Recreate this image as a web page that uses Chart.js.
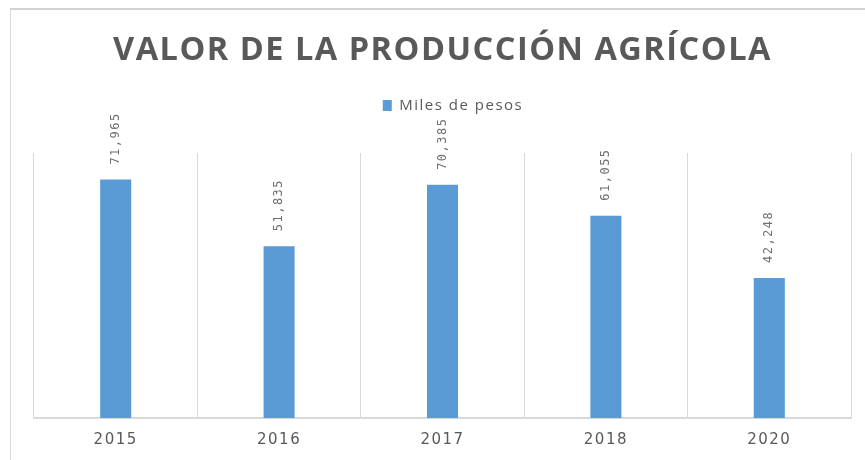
<!DOCTYPE html>
<html lang="es">
<head>
    <meta charset="UTF-8">
    <title>Valor de la producción agrícola</title>
    <script src="https://cdn.jsdelivr.net/npm/chart.js"></script>
    <style>
        body { margin: 0; background: #fff; }
        #wrap {
            position: absolute; left: 10px; top: 8px; width: 854px; height: 450px;
            border-top: 2px solid #d2d2d2; border-left: 1px solid #dadada;
        }
    </style>
</head>
<body>
    <div id="wrap"><canvas id="myChart"></canvas></div>
    <script>
        // Data
        const years = ['2015', '2016', '2017', '2018', '2020'];
        const milesDePesos = [71965, 51835, 70385, 61055, 42248];
        const seriesLabel = 'Miles de pesos';
        const chartTitle = 'VALOR DE LA PRODUCCIÓN AGRÍCOLA';

        const grey = '#595959';

        // Excel-like text spacing (canvas state is reset on resize, so set it each draw)
        const spacingPlugin = {
            id: 'spacing',
            beforeDraw: (chart) => {
                chart.ctx.letterSpacing = '1.5px';
            }
        };

        // empty layout box between legend and plot area
        const legendGap = {
            id: 'legendGap',
            beforeInit: (chart) => {
                Chart.layouts.addBox(chart, {
                    position: 'top',
                    weight: 500,
                    fullSize: true,
                    options: {},
                    isHorizontal: () => true,
                    update(maxWidth) {
                        this.width = maxWidth;
                        this.height = 30;
                    },
                    draw() {}
                });
            }
        };

        // Rotated value labels above each bar
        const valueLabels = {
            id: 'valueLabels',
            afterDatasetsDraw: (chart) => {
                const ctx = chart.ctx;
                const meta = chart.getDatasetMeta(0);
                ctx.save();
                ctx.font = '12px "DejaVu Sans Mono"';
                ctx.fillStyle = '#6f6f6f';
                ctx.textAlign = 'left';
                ctx.textBaseline = 'middle';
                meta.data.forEach((bar, i) => {
                    const v = chart.data.datasets[0].data[i];
                    ctx.save();
                    ctx.translate(bar.x, bar.y - 15);
                    ctx.rotate(-Math.PI / 2);
                    ctx.fillText(v.toLocaleString('en-US'), 0, 0);
                    ctx.restore();
                });
                ctx.restore();
            }
        };

        const ctx = document.getElementById('myChart').getContext('2d');
        new Chart(ctx, {
            type: 'bar',
            data: {
                labels: years,
                datasets: [{
                    label: seriesLabel,
                    data: milesDePesos,
                    backgroundColor: '#5b9bd5',
                    borderWidth: 0,
                    categoryPercentage: 0.19,
                    barPercentage: 1
                }]
            },
            plugins: [spacingPlugin, legendGap, valueLabels],
            options: {
                responsive: true,
                maintainAspectRatio: false,
                animation: false,
                layout: { padding: { left: 23, right: 14, bottom: -2 } },
                plugins: {
                    title: {
                        display: true,
                        text: chartTitle,
                        color: grey,
                        font: { family: '"Open Sans"', size: 32.5, weight: 'bold' },
                        padding: { top: 21, bottom: -15 }
                    },
                    legend: {
                        display: true,
                        position: 'top',
                        labels: {
                            color: grey,
                            font: { family: '"Open Sans"', size: 15 },
                            boxWidth: 9,
                            boxHeight: 11,
                            padding: 43
                        }
                    },
                    tooltip: { enabled: false }
                },
                scales: {
                    x: {
                        grid: { color: '#d9d9d9', drawTicks: false, offset: true },
                        border: { color: '#d9d9d9', width: 2 },
                        ticks: {
                            color: grey,
                            font: { family: '"DejaVu Sans"', size: 15 },
                            padding: 13
                        }
                    },
                    y: {
                        display: false,
                        min: 0,
                        max: 80000
                    }
                }
            }
        });
    </script>
</body>
</html>
